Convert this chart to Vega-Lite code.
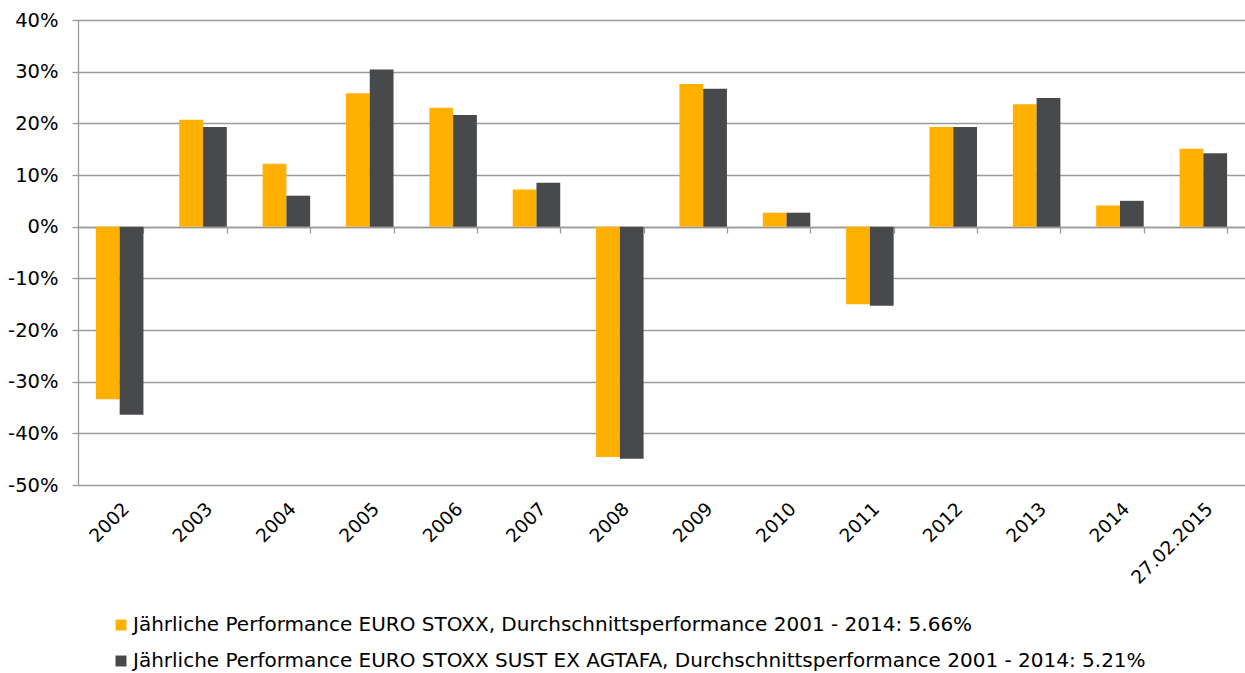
{
  "$schema": "https://vega.github.io/schema/vega-lite/v6.json",
  "width": 1167,
  "height": 465,
  "autosize": "none",
  "padding": {"left": 78, "top": 20, "right": 0, "bottom": 188},
  "background": "white",
  "config": {
    "font": "DejaVu Sans",
    "view": {"stroke": null},
    "axisY": {
      "grid": true, "gridColor": "#9a9a9a", "gridWidth": 1.3,
      "domainColor": "#9a9a9a", "domainWidth": 1.3,
      "tickColor": "#9a9a9a", "tickSize": 6, "tickWidth": 1.3,
      "labelFontSize": 19.5, "labelPadding": 14, "labelColor": "#000000",
      "title": null
    }
  },
  "data": {
    "values": [
      {"period": "2002", "series": "A", "value": -33.4},
      {"period": "2002", "series": "B", "value": -36.4},
      {"period": "2003", "series": "A", "value": 20.7},
      {"period": "2003", "series": "B", "value": 19.3},
      {"period": "2004", "series": "A", "value": 12.2},
      {"period": "2004", "series": "B", "value": 6.0},
      {"period": "2005", "series": "A", "value": 25.8},
      {"period": "2005", "series": "B", "value": 30.4},
      {"period": "2006", "series": "A", "value": 23.0},
      {"period": "2006", "series": "B", "value": 21.6},
      {"period": "2007", "series": "A", "value": 7.2},
      {"period": "2007", "series": "B", "value": 8.5},
      {"period": "2008", "series": "A", "value": -44.6},
      {"period": "2008", "series": "B", "value": -44.9},
      {"period": "2009", "series": "A", "value": 27.6},
      {"period": "2009", "series": "B", "value": 26.7},
      {"period": "2010", "series": "A", "value": 2.7},
      {"period": "2010", "series": "B", "value": 2.7},
      {"period": "2011", "series": "A", "value": -15.0},
      {"period": "2011", "series": "B", "value": -15.3},
      {"period": "2012", "series": "A", "value": 19.3},
      {"period": "2012", "series": "B", "value": 19.3},
      {"period": "2013", "series": "A", "value": 23.7},
      {"period": "2013", "series": "B", "value": 24.9},
      {"period": "2014", "series": "A", "value": 4.1},
      {"period": "2014", "series": "B", "value": 5.0},
      {"period": "27.02.2015", "series": "A", "value": 15.1},
      {"period": "27.02.2015", "series": "B", "value": 14.2}
    ]
  },
  "layer": [
    {
      "mark": {"type": "bar"},
      "encoding": {
        "x": {
          "field": "period", "type": "nominal", "sort": null,
          "scale": {"paddingInner": 0.43, "paddingOuter": 0.215},
          "axis": {
            "orient": "bottom", "title": null, "labelAngle": -45,
            "labelFontSize": 18.5, "labelColor": "#000000",
            "ticks": false, "domain": false, "grid": false, "labelPadding": 14
          }
        },
        "xOffset": {"field": "series", "type": "nominal", "sort": null},
        "y": {
          "field": "value", "type": "quantitative",
          "scale": {"domain": [-50, 40], "nice": false},
          "axis": {"values": [-50, -40, -30, -20, -10, 0, 10, 20, 30, 40], "labelExpr": "datum.value + '%'", "title": null}
        },
        "color": {
          "field": "series", "type": "nominal", "sort": null,
          "scale": {"domain": ["A", "B"], "range": ["#FFB000", "#48494B"]},
          "legend": {
            "orient": "none", "legendX": 33, "legendY": 595,
            "direction": "vertical", "title": null, "padding": 0,
            "symbolType": "square", "symbolSize": 120, "symbolStrokeWidth": 0,
            "labelFontSize": 20, "labelColor": "#000000", "labelLimit": 1200,
            "labelOffset": 2, "rowPadding": 16,
            "labelExpr": "datum.value == 'A' ? 'Jährliche Performance EURO STOXX, Durchschnittsperformance 2001 - 2014: 5.66%' : 'Jährliche Performance EURO STOXX SUST EX AGTAFA, Durchschnittsperformance 2001 - 2014: 5.21%'"
          }
        }
      }
    },
    {
      "mark": {"type": "bar", "opacity": 0},
      "encoding": {
        "x": {
          "field": "period", "type": "nominal", "sort": null,
          "axis": {
            "orient": "bottom", "title": null, "labels": false,
            "ticks": true, "tickBand": "extent", "tickSize": 6, "tickColor": "#9a9a9a", "tickWidth": 1.3,
            "domain": true, "domainColor": "#9a9a9a", "domainWidth": 1.3,
            "grid": false, "offset": -258
          }
        },
        "y": {"field": "value", "type": "quantitative", "axis": {"title": null}}
      }
    }
  ],
  "resolve": {"axis": {"x": "independent"}}
}
